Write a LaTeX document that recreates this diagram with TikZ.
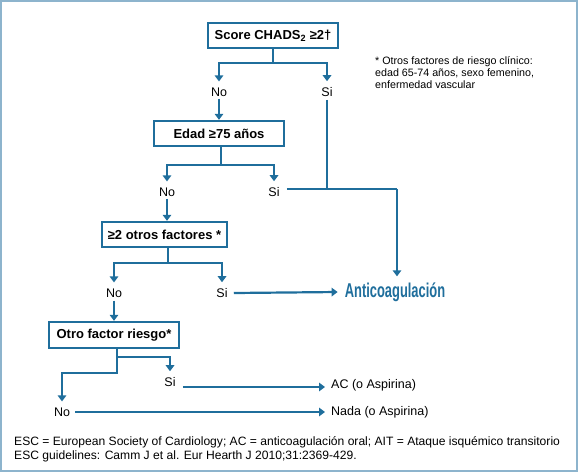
\documentclass[tikz,border=0pt]{standalone}
\usepackage{fontspec}
\setmainfont{Liberation Sans}
\usetikzlibrary{arrows.meta}
\definecolor{lb}{HTML}{1F6E9C}
\definecolor{frame}{HTML}{8DB4CD}
\tikzset{
 box/.style={draw=lb, line width=2.3pt, fill=white, font=\bfseries\fontsize{13}{15}\selectfont, minimum height=25pt, inner sep=0pt},
 lab/.style={font=\fontsize{12.5}{14}\selectfont, inner sep=0pt},
 conn/.style={draw=lb, line width=2.2pt},
 arr/.style={conn, -{Triangle[width=8.5pt,length=6pt]}},
 note/.style={font=\fontsize{10.7}{12}\selectfont, inner sep=0pt, align=left},
 foot/.style={font=\fontsize{12.1}{14.5}\selectfont, inner sep=0pt, align=left},
}
\begin{document}
\begin{tikzpicture}[x=1pt,y=-1pt]
\useasboundingbox (0,0) rectangle (579,475);
\draw[frame, line width=2pt] (1,1) rectangle (577,471);

\node[box, minimum width=130pt] (b1) at (273,35.5) {Score CHADS\textsubscript{2} ≥2†};
\node[box, minimum width=130pt] (b2) at (219,133.5) {Edad ≥75 años};
\node[box, minimum width=125pt] (b3) at (164.5,234.5) {≥2 otros factores *};
\node[box, minimum width=130pt, minimum height=26pt] (b4) at (114,335) {Otro factor riesgo*};

\node[lab] (no1) at (219,92) {No};
\node[lab] (si1) at (327,92) {Si};
\node[lab] (no2) at (167,192) {No};
\node[lab] (si2) at (274,192) {Si};
\node[lab] (no3) at (114,293) {No};
\node[lab] (si3) at (222,293) {Si};
\node[lab] (si4) at (170,382) {Si};
\node[lab] (no4) at (62,412) {No};

\node[inner sep=0pt, text=lb, font=\bfseries\fontsize{20}{22}\selectfont] (anti) at (395,292) {\scalebox{0.645}[1]{Anticoagulación}};
\node[lab, anchor=west] (ac) at (331,385) {AC (o Aspirina)};
\node[lab, anchor=west] (nada) at (331,412) {Nada (o Aspirina)};

\node[note, anchor=north west] (nt) at (375,56) {* Otros factores de riesgo clínico:\\edad 65-74 años, sexo femenino,\\enfermedad vascular};
\node[foot, anchor=north west] (ft) at (14,436) {ESC = European Society of Cardiology; AC = anticoagulación oral; AIT = Ataque isquémico transitorio\\ESC guidelines: Camm J et al. Eur Hearth J 2010;31:2369-429.};

% branch 1
\draw[conn] (b1.south) -- (273,63) coordinate (j1);
\draw[arr] (j1) -| ([yshift=6pt]no1.north);
\draw[arr] (j1) -| ([yshift=6pt]si1.north);
\draw[arr] ([yshift=-2pt]no1.south) -- (b2.north -| no1.south);
% branch 2
\draw[conn] ([xshift=2pt]b2.south) -- (221,165) coordinate (j2);
\draw[arr] (j2) -| ([yshift=6pt]no2.north);
\draw[arr] (j2) -| ([yshift=6pt]si2.north);
\draw[arr] ([yshift=-2pt]no2.south) -- (b3.north -| no2.south);
% Si -> anticoagulacion
\draw[conn] ([xshift=7pt,yshift=3pt]si2.east) -- (397,189) coordinate (j3);
\draw[conn] ([yshift=-3pt]si1.south) -- (si1.south |- j3);
\draw[arr] (j3) -- ([yshift=6pt]anti.north -| j3);
% branch 3
\draw[conn] ([xshift=3.5pt]b3.south) -- (168,263) coordinate (j4);
\draw[arr] (j4) -| ([yshift=6pt]no3.north);
\draw[arr] (j4) -| ([yshift=6pt]si3.north);
\draw[arr] ([yshift=-3pt]no3.south) -- (b4.north -| no3.south);
\draw[arr] ([xshift=6pt]si3.east) -- ([xshift=-7pt]anti.west);
% branch 4
\draw[conn] ([xshift=3pt]b4.south) -- (117,357) coordinate (j5);
\draw[arr] (j5) -| ([yshift=6pt]si4.north);
\draw[arr] (j5) -- (117,373) -| ([yshift=6pt]no4.north);
\draw[arr] ([xshift=7pt,yshift=-5pt]si4.east) -- ([xshift=-6pt,yshift=-2pt]ac.west);
\draw[arr] ([xshift=5pt]no4.east) -- ([xshift=-6pt]nada.west);
\end{tikzpicture}
\end{document}
